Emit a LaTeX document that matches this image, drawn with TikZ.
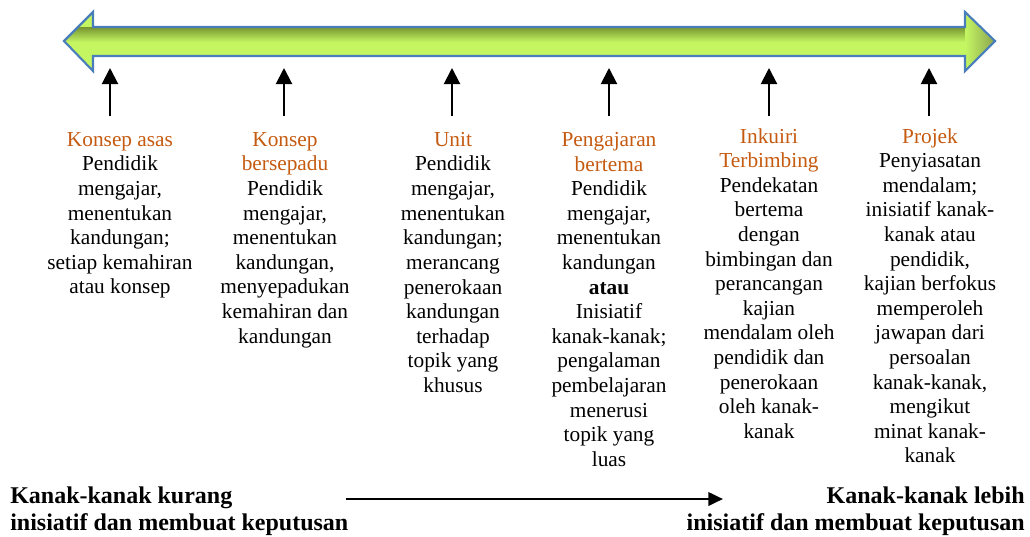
\documentclass[tikz,border=0pt]{standalone}
\usepackage{fontspec}
\setmainfont{Liberation Serif}
\usetikzlibrary{arrows.meta, positioning}
\definecolor{titleorange}{RGB}{197,90,17}
\definecolor{barfill}{RGB}{196,246,98}
\definecolor{barshade}{RGB}{118,148,48}
\definecolor{barline}{RGB}{74,126,187}
\newcommand{\ttl}[1]{\textcolor{titleorange}{#1}}
\newcommand{\bigarrowpath}{(64,41) -- (93,12) -- (93,27) -- (965,27) -- (965,12) -- (995,41)
    -- (965,71) -- (965,56) -- (93,56) -- (93,71) -- cycle}
\tikzset{colbox/.style={align=center, anchor=north, inner sep=0pt,
        font=\fontsize{16}{18.45}\selectfont},
    endlabel/.style={inner sep=0pt, font=\fontsize{18}{20.25}\selectfont\bfseries},
    uparrow/.style={line width=1.5pt, -{Triangle[length=12pt,width=12pt]}},
    flowarrow/.style={line width=2pt, -{Triangle[length=11pt,width=10pt]}}}
\begin{document}
\begin{tikzpicture}[x=0.75pt, y=-0.75pt]
    \useasboundingbox (0,0) rectangle (1030,536);

    % Double-headed bar
    \begin{scope}
        \clip \bigarrowpath;
        \fill[barfill] (60,0) rectangle (1000,80);
        \shade[top color=barshade, bottom color=barfill] (60,27) rectangle (1000,42);
    \end{scope}
    \shade[left color=barfill, right color=barshade!85] (965,12) -- (995,41) -- (965,71) -- cycle;
    \draw[barline, line width=1.6pt, line join=miter] \bigarrowpath;

    % Pointers up to the bar
    \foreach \i/\x in {1/110, 2/284, 3/452, 4/609, 5/769, 6/929} {
        \coordinate (s\i) at (\x,116);
        \coordinate (t\i) at (\x,68);
        \draw[uparrow] (s\i) -- (t\i);
    }

    % Approaches
    \node[colbox] (asas) at (120,132) {\ttl{Konsep asas}\\Pendidik\\mengajar,\\menentukan\\kandungan;\\setiap kemahiran\\atau konsep};
    \node[colbox] (sepadu) at (285,132) {\ttl{Konsep}\\\ttl{bersepadu}\\Pendidik\\mengajar,\\menentukan\\kandungan,\\menyepadukan\\kemahiran dan\\kandungan};
    \node[colbox] (unit) at (453,132) {\ttl{Unit}\\Pendidik\\mengajar,\\menentukan\\kandungan;\\merancang\\penerokaan\\kandungan\\terhadap\\topik yang\\khusus};
    \node[colbox] (tema) at (609,132) {\ttl{Pengajaran}\\\ttl{bertema}\\Pendidik\\mengajar,\\menentukan\\kandungan\\\textbf{atau}\\Inisiatif\\kanak-kanak;\\pengalaman\\pembelajaran\\menerusi\\topik yang\\luas};
    \node[colbox] (inkuiri) at (769,128) {\ttl{Inkuiri}\\\ttl{Terbimbing}\\Pendekatan\\bertema\\dengan\\bimbingan dan\\perancangan\\kajian\\mendalam oleh\\pendidik dan\\penerokaan\\oleh kanak-\\kanak};
    \node[colbox] (projek) at (930,128) {\ttl{Projek}\\Penyiasatan\\mendalam;\\inisiatif kanak-\\kanak atau\\pendidik,\\kajian berfokus\\memperoleh\\jawapan dari\\persoalan\\kanak-kanak,\\mengikut\\minat kanak-\\kanak};

    % Bottom scale
    \node[endlabel, align=left, anchor=north west] (kurang) at (10,487) {Kanak-kanak kurang\\inisiatif dan membuat keputusan};
    \node[endlabel, align=right, anchor=north east] (lebih) at (1025,487) {Kanak-kanak lebih\\inisiatif dan membuat keputusan};
    \coordinate (flowstart) at (346,499);
    \coordinate (flowend) at (723,499);
    \draw[flowarrow] (flowstart) -- (flowend);
\end{tikzpicture}
\end{document}
